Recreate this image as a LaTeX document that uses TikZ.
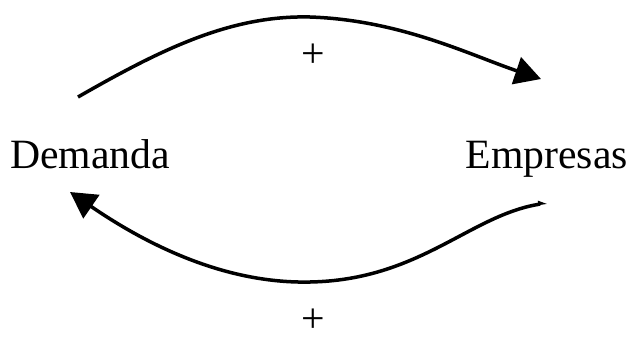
\documentclass[tikz,border=0pt]{standalone}
\usepackage{fontspec}
\setmainfont{Liberation Serif}
\usepackage{tikz}
\usetikzlibrary{arrows.meta}

\begin{document}
\begin{tikzpicture}[x=1pt, y=1pt,
    word/.style={font=\fontsize{41.7}{50}\selectfont, inner sep=0pt},
    sign/.style={word, text depth=0pt, anchor=base},
    link/.style={line width=3.5pt, -{Triangle[length=26pt,width=28pt]}}]
  \useasboundingbox (0,0) rectangle (632,-338);
  \node[word, anchor=base west] (demanda) at (10,-168) {Demanda};
  \node[word, anchor=base east] (empresas) at (628,-168) {Empresas};
  \node[sign] (plustop) at (313,-67) {+};
  \node[sign] (plusbot) at (313,-332) {+};
  \coordinate (dout) at (78,-97);
  \coordinate (ein) at (541,-79);
  \coordinate (eout) at (547,-203);
  \coordinate (din) at (70,-192);
  \draw[link] (dout) .. controls (160,-50) and (230,-15) .. (310,-17)
    .. controls (400,-20) and (470,-55) .. (ein);
  \draw[link, {Triangle[length=7pt,width=7pt,left]}-{Triangle[length=26pt,width=28pt]}]
    (eout) .. controls (470,-215) and (420,-280) .. (310,-282)
    .. controls (220,-284) and (140,-240) .. (din);
\end{tikzpicture}
\end{document}
